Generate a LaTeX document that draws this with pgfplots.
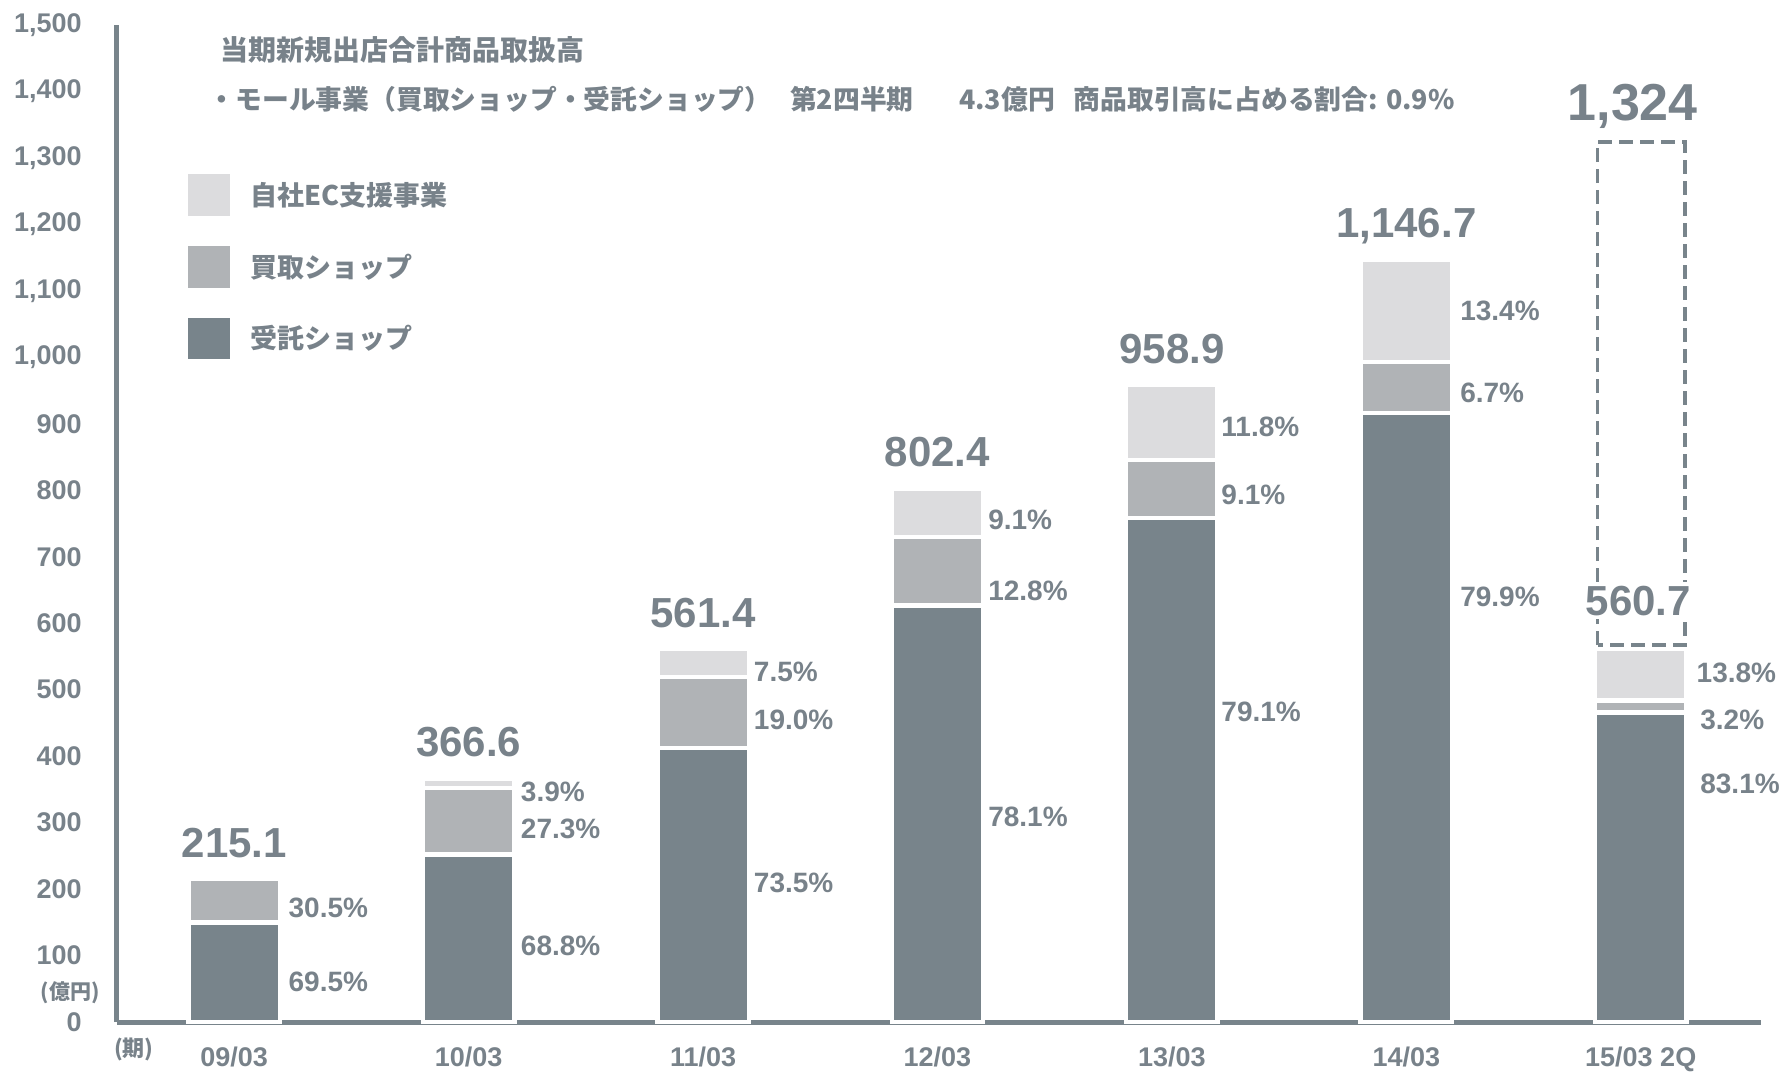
\documentclass[border=0pt]{standalone}
\usepackage{fontspec}
\setmainfont{Liberation Sans}
\newfontfamily\jp{Noto Sans CJK JP}
\usepackage{pgfplots}
\pgfplotsset{compat=1.18}
\definecolor{dark}{RGB}{120,132,139}
\definecolor{mid}{RGB}{176,179,182}
\definecolor{light}{RGB}{220,220,222}
\definecolor{txt}{RGB}{120,130,138}
\newcommand{\fs}[1]{\fontsize{#1}{#1}\selectfont}
\pgfplotsset{base/.style={
  at={(0pt,0pt)}, anchor=south west,
  scale only axis, width=822pt, height=498.5pt,
  xmin=-0.5, xmax=6.513, ymin=0, ymax=1500, clip=false}}
\begin{document}
\begin{tikzpicture}
\path[use as bounding box] (-58.5pt,-25pt) rectangle (833.5pt,511pt);
\begin{axis}[base,
  ybar stacked, bar width=0.39,
  axis x line=bottom, axis y line=left,
  axis line style={-, line width=2.5pt, draw=dark},
  major tick length=0pt,
  xtick={0,1,2,3,4,5,6}, xticklabels={09/03,10/03,11/03,12/03,13/03,14/03,15/03 2Q},
  ytick={0,100,...,1500},
  /pgf/number format/assume math mode=true,
  /pgf/number format/1000 sep={,},
  ticklabel style={font=\bfseries\fs{13.5}, text=txt, inner sep=0pt},
  yticklabel style={xshift=-17.5pt},
  xticklabel style={yshift=-12.5pt},
  reverse legend,
  legend cell align=left,
  legend style={at={(0.0432,0.8505)}, anchor=north west, draw=none, fill=none,
    inner sep=0pt, row sep=15pt, column sep=10pt,
    font=\jp\bfseries\fs{13.5}, text=txt, nodes={inner sep=0pt, anchor=west}},
]
\addplot[fill=dark, draw=white, line width=2.2pt,
  legend image code/.code={\fill[dark] (0pt,-9.3pt) rectangle (18.6pt,9.3pt);}]
  coordinates {(0,149.5) (1,252.2) (2,412.6) (3,626.7) (4,758.5) (5,916.2) (6,465.9)};
\addplot[fill=mid, draw=white, line width=2.2pt,
  legend image code/.code={\fill[mid] (0pt,-9.3pt) rectangle (18.6pt,9.3pt);}]
  coordinates {(0,65.6) (1,100.1) (2,106.7) (3,102.7) (4,87.3) (5,76.8) (6,17.9)};
\addplot[fill=light, draw=white, line width=2.2pt,
  legend image code/.code={\fill[light] (0pt,-9.3pt) rectangle (18.6pt,9.3pt);}]
  coordinates {(0,0) (1,14.3) (2,42.1) (3,73.0) (4,113.2) (5,153.7) (6,77.4)};
\legend{受託ショップ,買取ショップ,自社EC支援事業}
\end{axis}
\begin{axis}[base, hide axis]
% forecast dashed box
\addplot[sharp plot, no markers, draw=dark, line width=1.75pt,
  dash pattern=on 7pt off 3.5pt]
  coordinates {(5.816,567) (5.816,1324) (6.189,1324) (6.189,567) (5.816,567)};

% totals
\begin{scope}[every node/.style={font=\bfseries\fs{21}, text=txt, inner sep=0pt}]
\node at (axis cs:0,269) {215.1};
\node at (axis cs:1,421) {366.6};
\node at (axis cs:2,616) {561.4};
\node at (axis cs:3,857) {802.4};
\node at (axis cs:4,1013) {958.9};
\node at (axis cs:5,1197) {1,146.7};
\node[fill=white, inner sep=2pt] at (axis cs:5.99,634) {560.7};
\node[font=\bfseries\fs{26}] at (axis cs:5.966,1378) {1,324};
\end{scope}

% percentages
\begin{scope}[every node/.style={font=\bfseries\fs{14}, text=txt, inner sep=0pt, anchor=west}]
\node at (axis cs:0.2305,171) {30.5\%};
\node at (axis cs:0.2305,60) {69.5\%};
\node at (axis cs:1.2215,346) {3.9\%};
\node at (axis cs:1.2215,291) {27.3\%};
\node at (axis cs:1.2215,115) {68.8\%};
\node at (axis cs:2.2155,526) {7.5\%};
\node at (axis cs:2.2155,455) {19.0\%};
\node at (axis cs:2.2155,209) {73.5\%};
\node at (axis cs:3.215,755) {9.1\%};
\node at (axis cs:3.215,649) {12.8\%};
\node at (axis cs:3.215,308) {78.1\%};
\node at (axis cs:4.2097,896) {11.8\%};
\node at (axis cs:4.2097,793) {9.1\%};
\node at (axis cs:4.2097,467) {79.1\%};
\node at (axis cs:5.2286,1070) {13.4\%};
\node at (axis cs:5.2286,947) {6.7\%};
\node at (axis cs:5.2286,640) {79.9\%};
\node at (axis cs:6.237,526) {13.8\%};
\node at (axis cs:6.2526,455) {3.2\%};
\node at (axis cs:6.2526,358) {83.1\%};
\end{scope}

% titles and units
\node[anchor=west, inner sep=0pt, font=\jp\bfseries\fs{14}, text=txt] at (rel axis cs:0.0627,0.9747) {当期新規出店合計商品取扱高};
\node[anchor=west, inner sep=0pt, font=\jp\bfseries\fs{13.4}, text=txt] at (rel axis cs:0.0555,0.9257) {・モール事業（買取ショップ・受託ショップ）\hspace{0.7em}第2四半期\hspace{1.7em}4.3億円\hspace{0.7em}商品取引高に占める割合: 0.9\%};
\node[anchor=east, inner sep=0pt, xshift=-8.5pt, font=\jp\bfseries\fs{10.5}, text=txt] at (rel axis cs:0,0.029) {(億円)};
\node[inner sep=0pt, font=\jp\bfseries\fs{11}, text=txt] at (axis cs:-0.4275,-40.6) {(期)};
\end{axis}
\end{tikzpicture}
\end{document}
